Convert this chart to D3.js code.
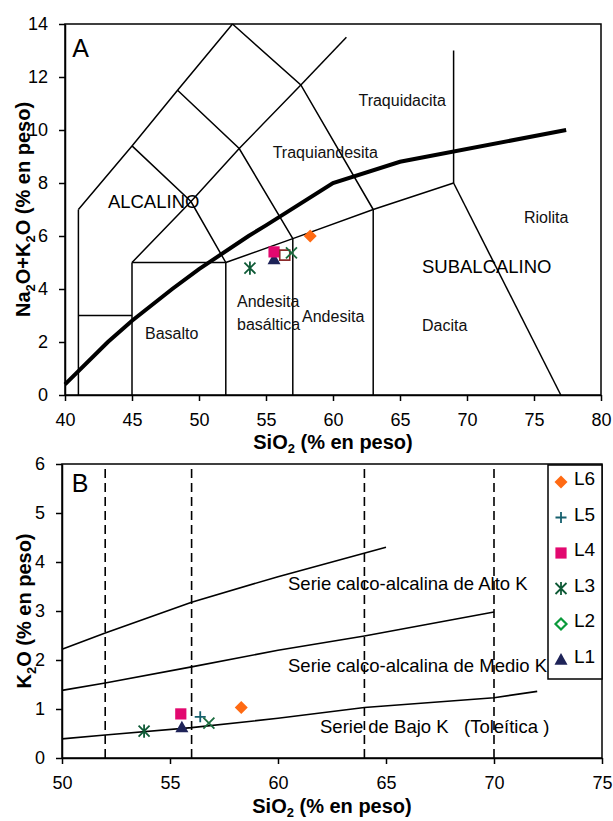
<!DOCTYPE html>
<html>
<head>
<meta charset="utf-8">
<script src="https://cdn.jsdelivr.net/npm/d3@7"></script>
<style>
  body { margin: 0; background: #fff; }
  svg { display: block; font-family: "Liberation Sans", Arial, sans-serif; }
</style>
</head>
<body>
<div id="chart"></div>
<script>
// ---------- data ----------
// panel A : TAS field boundaries (SiO2, Na2O+K2O)
var tasLines = [
  [[41,0],[41,7]],
  [[41,3],[45,3]],
  [[45,0],[45,5]],
  [[45,5],[52,5]],
  [[52,0],[52,5]],
  [[52,5],[57,5.9],[63,7],[69,8]],
  [[57,0],[57,5.9]],
  [[63,0],[63,7]],
  [[69,8],[77,0]],
  [[69,8],[69,13]],
  [[41,7],[45,9.4],[48.4,11.5],[52.5,14]],
  [[52.5,14],[57.6,11.7],[63,7]],
  [[45,5],[49.4,7.3],[53,9.3],[57.6,11.7]],
  [[45,9.4],[49.4,7.3],[52,5]],
  [[48.4,11.5],[53,9.3],[57,5.9]],
  [[57.6,11.7],[61,13.5]]
];
// alkaline / subalkaline divide
var divideSiO2 = [40, 43.2, 45, 48, 50, 53.7, 55, 60, 65, 77.4];
var divideAlk  = [0.4, 2, 2.8, 4, 4.75, 6, 6.4, 8, 8.8, 10];

var fieldNames = ["Traquidacita","Traquiandesita","Riolita","Basalto","Andesita","Andesita","basáltica","Dacita"];
var fieldSiO2  = [61.9, 55.5, 74.25, 45.97, 52.84, 57.69, 52.84, 66.64];
var fieldAlk   = [10.9, 8.94, 6.49, 2.11, 3.32, 2.75, 2.45, 2.42];

// samples, panel A
var ptsA_sym = ["triangle","square","hollowSquare","times","asterisk","diamond"];
var ptsA_si  = [55.6, 55.6, 56.4, 56.9, 53.8, 58.3];
var ptsA_alk = [5.13, 5.4, 5.28, 5.36, 4.79, 6.0];

// panel B : K2O series boundaries
var highK_si  = [50, 52, 56, 60, 65];
var highK_k   = [2.22, 2.55, 3.18, 3.7, 4.3];
var medK_si   = [50, 52, 56, 60, 64, 70];
var medK_k    = [1.38, 1.53, 1.86, 2.2, 2.49, 2.98];
var lowK_si   = [50, 52, 56, 60, 64, 70, 72];
var lowK_k    = [0.39, 0.47, 0.62, 0.81, 1.03, 1.23, 1.36];
var dashedSiO2 = [52, 56, 64, 70];

// samples, panel B
var ptsB_sym = ["asterisk","square","triangle","plus","times","diamond"];
var ptsB_si  = [53.8, 55.5, 55.55, 56.4, 56.8, 58.3];
var ptsB_k   = [0.55, 0.9, 0.63, 0.84, 0.71, 1.03];

// legend
var legendNames = ["L6","L5","L4","L3","L2","L1"];
var legendSyms  = ["diamond","plus","square","asterisk","hollowDiamond","triangle"];

var ticksA_x = [40,45,50,55,60,65,70,75,80];
var ticksA_y = [0,2,4,6,8,10,12,14];
var ticksB_x = [50,55,60,65,70,75];
var ticksB_y = [0,1,2,3,4,5,6];

// ---------- marker styles ----------
var markerStyle = {
  diamond:       {fill: "#FF6A13", stroke: "none"},
  square:        {fill: "#E2086F", stroke: "none"},
  triangle:      {fill: "#1E2358", stroke: "none"},
  hollowSquare:  {fill: "none", stroke: "#8B2A2A", width: 1.6},
  hollowDiamond: {fill: "none", stroke: "#0A9A3A", width: 2.2},
  plus:          {fill: "none", stroke: "#16606E", width: 1.8},
  times:         {fill: "none", stroke: "#1B6B3E", width: 1.8},
  asterisk:      {fill: "none", stroke: "#0E5A36", width: 1.8}
};
function markerPath(t) {
  var r;
  switch (t) {
    case "diamond": r = 6.5; return "M0,"+(-r)+"L"+r+",0L0,"+r+"L"+(-r)+",0Z";
    case "hollowDiamond": r = 5.5; return "M0,"+(-r)+"L"+r+",0L0,"+r+"L"+(-r)+",0Z";
    case "square": r = 5.6; return "M"+(-r)+","+(-r)+"H"+r+"V"+r+"H"+(-r)+"Z";
    case "hollowSquare": r = 5; return "M"+(-r)+","+(-r)+"H"+r+"V"+r+"H"+(-r)+"Z";
    case "triangle": r = 6.5; return "M0,"+(-r)+"L"+r+","+(r*0.8)+"L"+(-r)+","+(r*0.8)+"Z";
    case "plus": r = 5.5; return "M"+(-r)+",0H"+r+"M0,"+(-r)+"V"+r;
    case "times": r = 5.5; return "M"+(-r)+","+(-r)+"L"+r+","+r+"M"+(-r)+","+r+"L"+r+","+(-r);
    case "asterisk": r = 5.5; return "M"+(-r)+","+(-r)+"L"+r+","+r+"M"+(-r)+","+r+"L"+r+","+(-r)+"M0,"+(-r*1.2)+"V"+(r*1.2);
  }
}
function drawMarker(sel, t) {
  var st = markerStyle[t];
  sel.attr("d", markerPath(t))
    .attr("fill", st.fill)
    .attr("stroke", st.stroke)
    .attr("stroke-width", st.width || 0);
}

// ---------- svg ----------
var W = 613, H = 821;
var svg = d3.select("#chart").append("svg").attr("width", W).attr("height", H);

function styleAxis(g) {
  g.select(".domain").attr("stroke", "#000").attr("stroke-width", 1.5);
  g.selectAll(".tick line").attr("stroke", "#000").attr("stroke-width", 1.5);
  g.selectAll(".tick text").attr("font-size", 18).attr("fill", "#000")
    .attr("font-family", "Liberation Sans, Arial, sans-serif");
}

// ===== panel A =====
var xA = d3.scaleLinear().domain([40, 80]).range([65, 601]);
var yA = d3.scaleLinear().domain([0, 14]).range([395, 24]);

var gA = svg.append("g");

gA.append("rect")
  .attr("x", xA(40)).attr("y", yA(14))
  .attr("width", xA(80) - xA(40)).attr("height", yA(0) - yA(14))
  .attr("fill", "none").attr("stroke", "#000").attr("stroke-width", 1.5);

var lineA = d3.line().x(function(d){ return xA(d[0]); }).y(function(d){ return yA(d[1]); });

gA.selectAll(".tas").data(tasLines).enter().append("path")
  .attr("d", lineA).attr("fill", "none").attr("stroke", "#000").attr("stroke-width", 1.5);

gA.append("path")
  .attr("d", lineA(divideSiO2.map(function(s, i){ return [s, divideAlk[i]]; })))
  .attr("fill", "none").attr("stroke", "#000").attr("stroke-width", 4);

gA.append("g").attr("transform", "translate(0," + yA(0) + ")")
  .call(d3.axisBottom(xA).tickValues(ticksA_x).tickSize(6).tickPadding(12).tickSizeOuter(0))
  .call(styleAxis);
gA.append("g").attr("transform", "translate(" + xA(40) + ",0)")
  .call(d3.axisLeft(yA).tickValues(ticksA_y).tickSize(6).tickPadding(11).tickSizeOuter(0))
  .call(styleAxis);

gA.selectAll(".field").data(fieldNames).enter().append("text")
  .attr("x", function(d, i){ return xA(fieldSiO2[i]); })
  .attr("y", function(d, i){ return yA(fieldAlk[i]); })
  .attr("font-size", 16).attr("fill", "#111")
  .text(function(d){ return d; });

gA.append("text").attr("x", xA(43.2)).attr("y", yA(7.05))
  .attr("font-size", 18.5).text("ALCALINO");
gA.append("text").attr("x", xA(66.64)).attr("y", yA(4.6))
  .attr("font-size", 18.5).text("SUBALCALINO");
gA.append("text").attr("x", xA(40.55)).attr("y", yA(12.75))
  .attr("font-size", 25).text("A");

gA.selectAll(".ptA").data(ptsA_sym).enter().append("path")
  .attr("transform", function(d, i){ return "translate(" + xA(ptsA_si[i]) + "," + yA(ptsA_alk[i]) + ")"; })
  .each(function(d){ drawMarker(d3.select(this), d); });

// axis titles A
var tA = gA.append("text").attr("x", (xA(40) + xA(80)) / 2).attr("y", 449)
  .attr("text-anchor", "middle").attr("font-size", 20).attr("font-weight", "bold");
tA.append("tspan").text("SiO");
tA.append("tspan").attr("font-size", 13).attr("dy", 4).text("2");
tA.append("tspan").attr("dy", -4).text(" (% en peso)");

var tAy = gA.append("text")
  .attr("transform", "translate(30," + ((yA(0) + yA(14)) / 2) + ") rotate(-90)")
  .attr("text-anchor", "middle").attr("font-size", 20).attr("font-weight", "bold");
tAy.append("tspan").text("Na");
tAy.append("tspan").attr("font-size", 13).attr("dy", 5).text("2");
tAy.append("tspan").attr("dy", -5).text("O+K");
tAy.append("tspan").attr("font-size", 13).attr("dy", 5).text("2");
tAy.append("tspan").attr("dy", -5).text("O (% en peso)");

// ===== panel B =====
var xB = d3.scaleLinear().domain([50, 75]).range([62, 602]);
var yB = d3.scaleLinear().domain([0, 6]).range([758, 464]);

var gB = svg.append("g");

gB.append("rect")
  .attr("x", xB(50)).attr("y", yB(6))
  .attr("width", xB(75) - xB(50)).attr("height", yB(0) - yB(6))
  .attr("fill", "none").attr("stroke", "#000").attr("stroke-width", 1.5);

gB.selectAll(".dash").data(dashedSiO2).enter().append("line")
  .attr("x1", function(d){ return xB(d); }).attr("x2", function(d){ return xB(d); })
  .attr("y1", yB(0)).attr("y2", yB(6))
  .attr("stroke", "#000").attr("stroke-width", 1.6).attr("stroke-dasharray", "9,5");

var lineB = d3.line().x(function(d){ return xB(d[0]); }).y(function(d){ return yB(d[1]); });
[[highK_si, highK_k], [medK_si, medK_k], [lowK_si, lowK_k]].forEach(function(p) {
  gB.append("path")
    .attr("d", lineB(p[0].map(function(s, i){ return [s, p[1][i]]; })))
    .attr("fill", "none").attr("stroke", "#000").attr("stroke-width", 1.6);
});

gB.append("g").attr("transform", "translate(0," + yB(0) + ")")
  .call(d3.axisBottom(xB).tickValues(ticksB_x).tickSize(6).tickPadding(12).tickSizeOuter(0))
  .call(styleAxis);
gB.append("g").attr("transform", "translate(" + xB(50) + ",0)")
  .call(d3.axisLeft(yB).tickValues(ticksB_y).tickFormat(d3.format("d")).tickSize(6).tickPadding(11).tickSizeOuter(0))
  .call(styleAxis);

gB.append("text").attr("x", 288).attr("y", 590).attr("font-size", 18.5)
  .text("Serie calco-alcalina de Alto K");
gB.append("text").attr("x", 288).attr("y", 672).attr("font-size", 18.5)
  .text("Serie calco-alcalina de Medio K");
gB.append("text").attr("x", 320).attr("y", 733).attr("font-size", 18.5)
  .style("white-space", "pre")
  .text("Serie de Bajo K   (Toleítica )");
gB.append("text").attr("x", xB(50.45)).attr("y", 492)
  .attr("font-size", 25).text("B");

gB.selectAll(".ptB").data(ptsB_sym).enter().append("path")
  .attr("transform", function(d, i){ return "translate(" + xB(ptsB_si[i]) + "," + yB(ptsB_k[i]) + ")"; })
  .each(function(d){ drawMarker(d3.select(this), d); });

// legend
var lg = gB.append("g");
lg.append("rect").attr("x", 548).attr("y", yB(6) + 1).attr("width", xB(75) - 548).attr("height", 214)
  .attr("fill", "#fff").attr("stroke", "#000").attr("stroke-width", 1.5);
var item = lg.selectAll(".item").data(legendNames).enter().append("g")
  .attr("transform", function(d, i){ return "translate(561," + (482 + i * 35.5) + ")"; });
item.append("path").each(function(d, i){ drawMarker(d3.select(this), legendSyms[i]); });
item.append("text").attr("x", 13).attr("y", 3).attr("font-size", 19).text(function(d){ return d; });

// axis titles B
var tB = gB.append("text").attr("x", (xB(50) + xB(75)) / 2).attr("y", 813)
  .attr("text-anchor", "middle").attr("font-size", 20).attr("font-weight", "bold");
tB.append("tspan").text("SiO");
tB.append("tspan").attr("font-size", 13).attr("dy", 4).text("2");
tB.append("tspan").attr("dy", -4).text(" (% en peso)");

var tBy = gB.append("text")
  .attr("transform", "translate(31," + ((yB(0) + yB(6)) / 2) + ") rotate(-90)")
  .attr("text-anchor", "middle").attr("font-size", 20).attr("font-weight", "bold");
tBy.append("tspan").text("K");
tBy.append("tspan").attr("font-size", 13).attr("dy", 5).text("2");
tBy.append("tspan").attr("dy", -5).text("O (% en peso)");
</script>
</body>
</html>
